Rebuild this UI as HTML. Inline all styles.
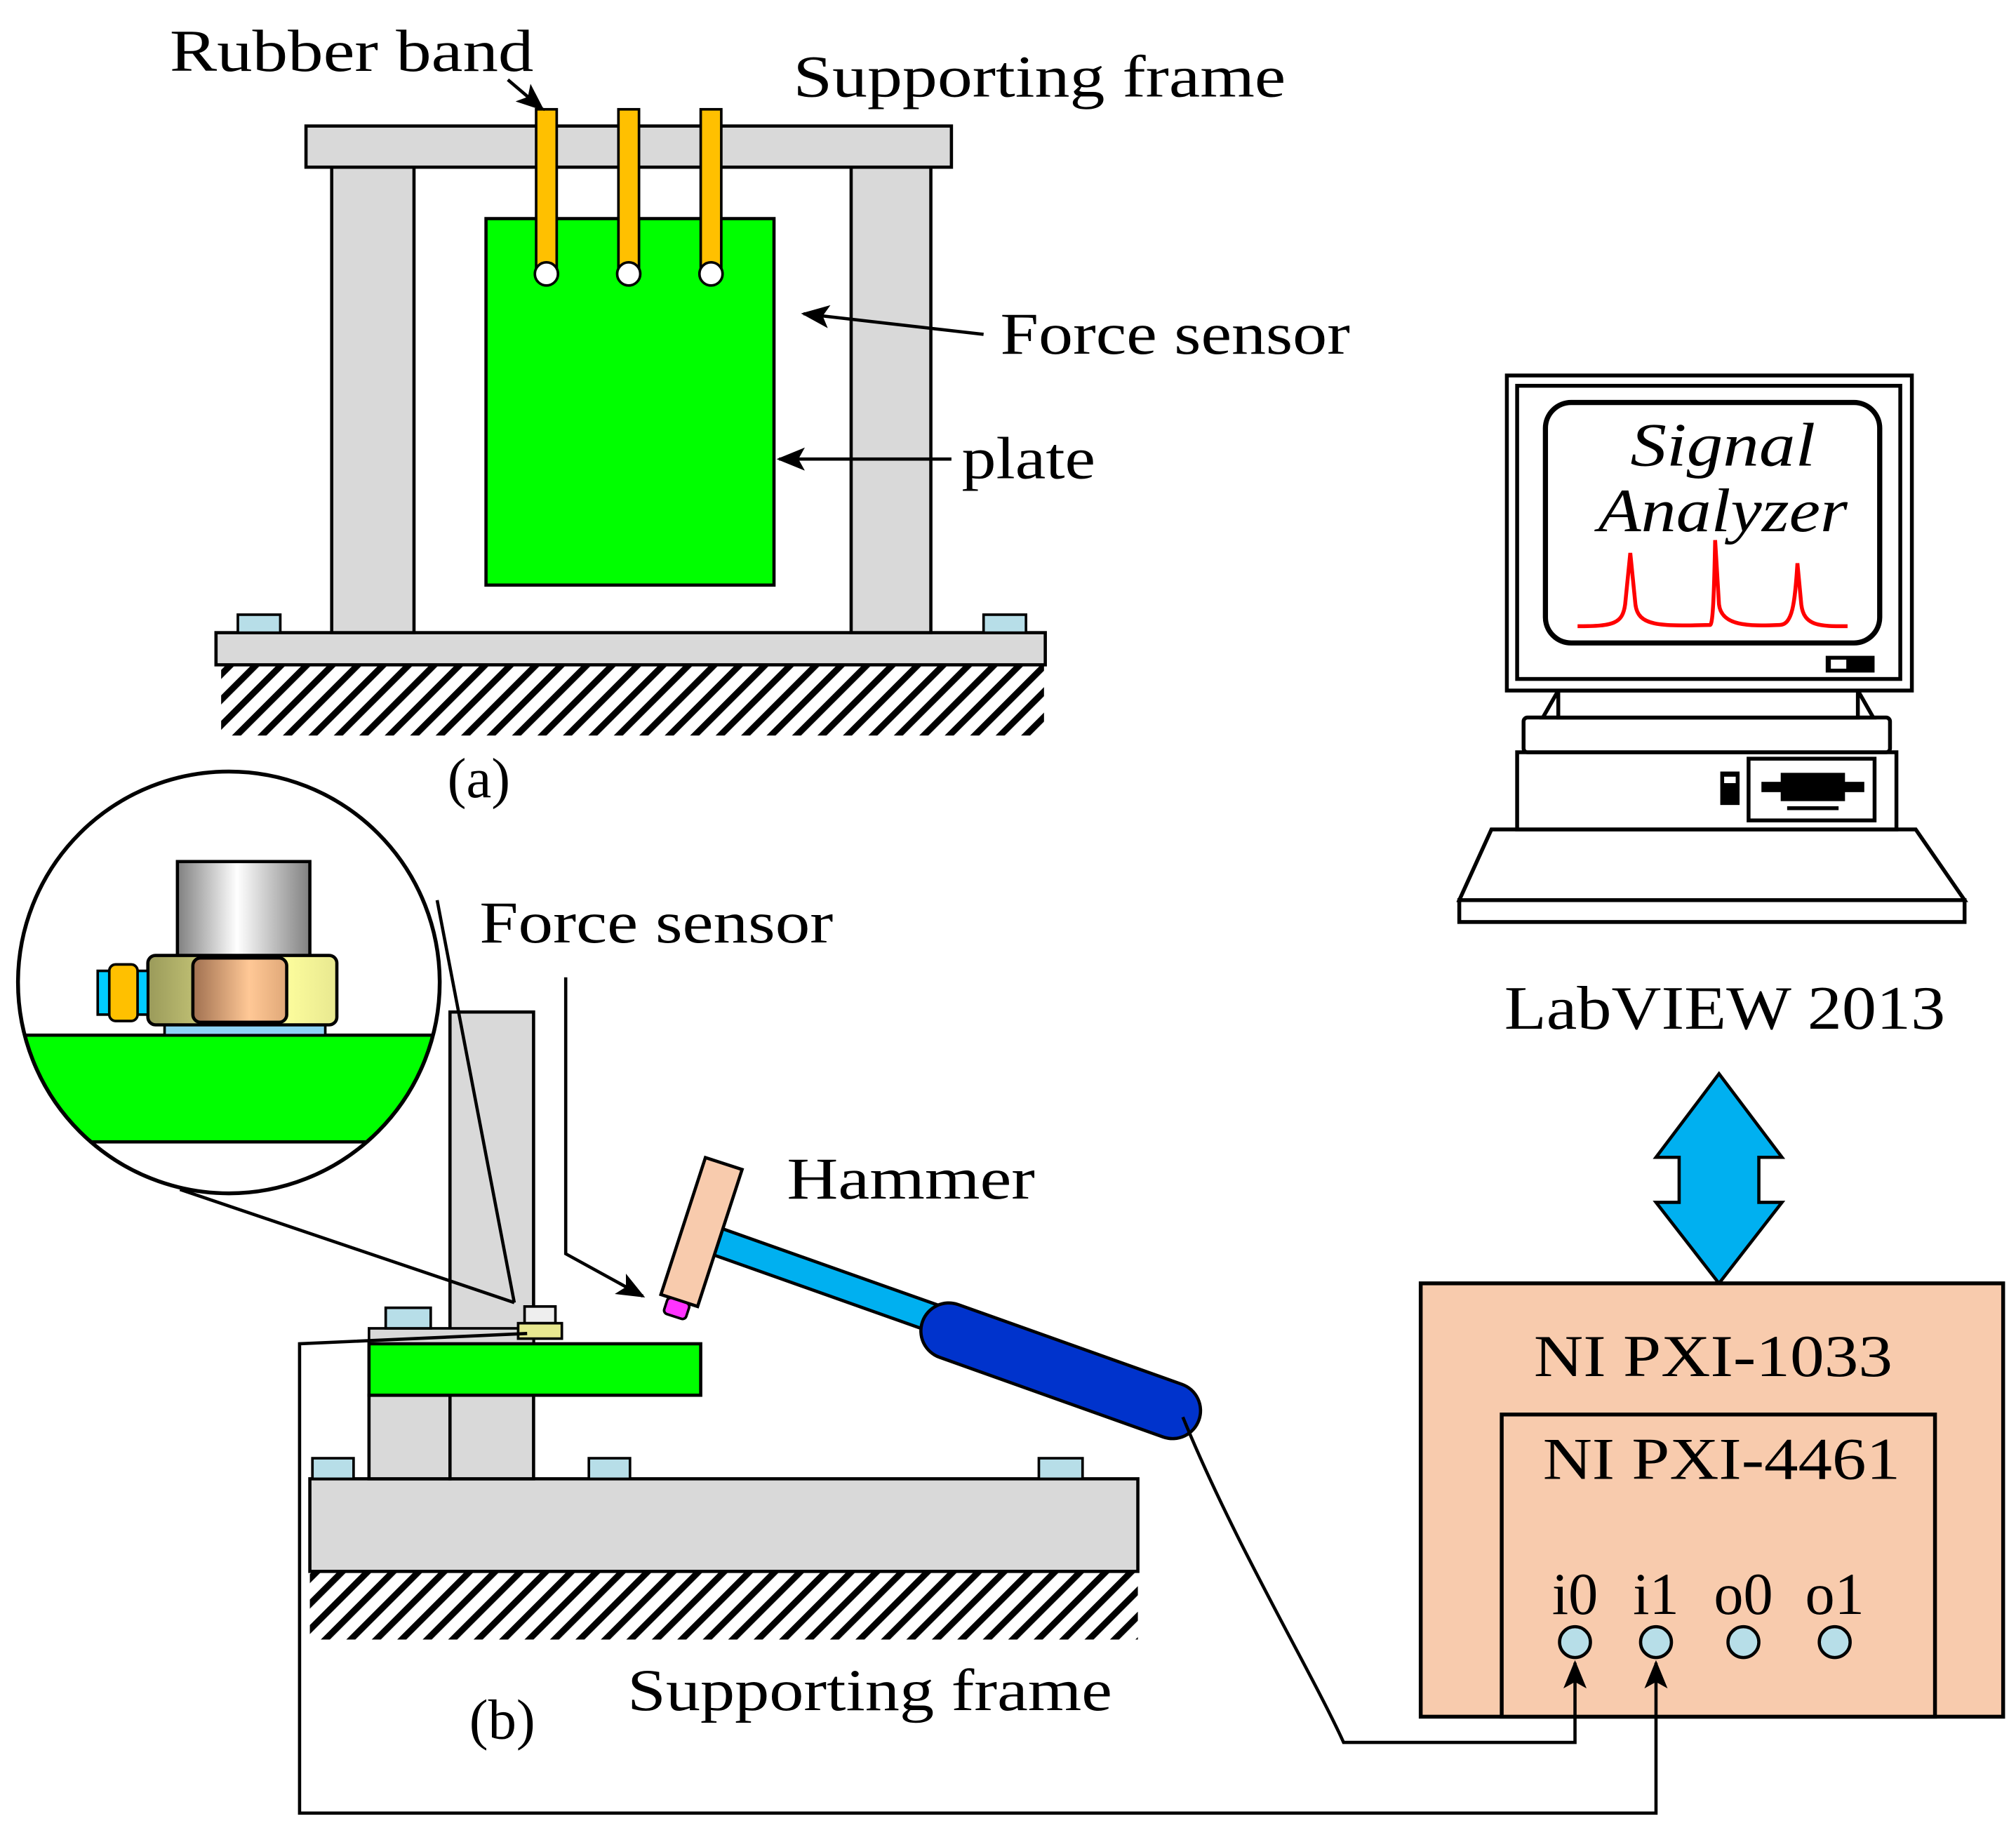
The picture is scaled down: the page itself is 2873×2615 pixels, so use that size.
<!DOCTYPE html>
<html><head><meta charset="utf-8"><style>
html,body{margin:0;padding:0;background:#fff}
svg{display:block}
text{font-family:"Liberation Serif",serif;fill:#000}
</style></head><body>
<svg width="2873" height="2615" viewBox="0 0 1568 1427" preserveAspectRatio="none" xmlns="http://www.w3.org/2000/svg">
<defs>
<pattern id="h" width="14" height="14" patternUnits="userSpaceOnUse" patternTransform="rotate(45)">
<rect width="14" height="14" fill="#fff"/><rect x="0" y="0" width="5" height="14" fill="#000"/>
</pattern>
<marker id="ar2" markerWidth="22" markerHeight="18" refX="20" refY="9" orient="auto" markerUnits="userSpaceOnUse"><path d="M0,0 L22,9 L0,18 L5,9 Z" fill="#000"/></marker>
<linearGradient id="cyl" x1="0" x2="1"><stop offset="0" stop-color="#808080"/><stop offset="0.45" stop-color="#fff"/><stop offset="1" stop-color="#808080"/></linearGradient>
<linearGradient id="nut" x1="0" x2="1"><stop offset="0" stop-color="#9a9a5a"/><stop offset="0.7" stop-color="#ffff9e"/><stop offset="1" stop-color="#e8e890"/></linearGradient>
<linearGradient id="nut2" x1="0" x2="1"><stop offset="0" stop-color="#a07050"/><stop offset="0.6" stop-color="#ffc896"/><stop offset="1" stop-color="#e0a878"/></linearGradient>
<clipPath id="lens"><circle cx="178" cy="764" r="164"/></clipPath>
</defs>

<!-- (a) -->
<rect x="172" y="517" width="640" height="55" fill="url(#h)"/>
<rect x="168" y="492" width="645" height="25" fill="#d9d9d9" stroke="#000" stroke-width="2.5"/>
<g fill="#b7dee8" stroke="#000" stroke-width="2"><rect x="185" y="478" width="33" height="14"/><rect x="765" y="478" width="33" height="14"/></g>
<rect x="258" y="130" width="64" height="362" fill="#d9d9d9" stroke="#000" stroke-width="2.5"/>
<rect x="662" y="130" width="62" height="362" fill="#d9d9d9" stroke="#000" stroke-width="2.5"/>
<rect x="238" y="98" width="502" height="32" fill="#d9d9d9" stroke="#000" stroke-width="2.5"/>
<rect x="378" y="170" width="224" height="285" fill="#00ff00" stroke="#000" stroke-width="2.5"/>
<g fill="#ffc000" stroke="#000" stroke-width="2">
<rect x="417" y="85" width="16" height="128"/><rect x="481" y="85" width="16" height="128"/><rect x="545" y="85" width="16" height="128"/></g>
<g fill="#fff" stroke="#000" stroke-width="2"><circle cx="425" cy="213" r="9"/><circle cx="489" cy="213" r="9"/><circle cx="553" cy="213" r="9"/></g>
<text x="132" y="55" font-size="46" textLength="283" lengthAdjust="spacingAndGlyphs">Rubber band</text>
<line x1="395" y1="62" x2="422" y2="85" stroke="#000" stroke-width="2.5" marker-end="url(#ar2)"/>
<text x="617" y="75" font-size="46" textLength="383" lengthAdjust="spacingAndGlyphs">Supporting frame</text>
<text x="778" y="275" font-size="46" textLength="272" lengthAdjust="spacingAndGlyphs">Force sensor</text>
<line x1="765" y1="260" x2="625" y2="244" stroke="#000" stroke-width="2.5" marker-end="url(#ar2)"/>
<text x="748" y="372" font-size="46" textLength="104" lengthAdjust="spacingAndGlyphs">plate</text>
<line x1="740" y1="357" x2="606" y2="357" stroke="#000" stroke-width="2.5" marker-end="url(#ar2)"/>
<text x="348" y="620" font-size="44">(a)</text>

<!-- (b) -->
<rect x="241" y="1222" width="644" height="53" fill="url(#h)"/>
<rect x="241" y="1150" width="644" height="72" fill="#d9d9d9" stroke="#000" stroke-width="2.5"/>
<g fill="#b7dee8" stroke="#000" stroke-width="2"><rect x="243" y="1134" width="32" height="16"/><rect x="458" y="1134" width="32" height="16"/><rect x="808" y="1134" width="34" height="16"/></g>
<rect x="287" y="1085" width="63" height="65" fill="#d9d9d9" stroke="#000" stroke-width="2.5"/>
<rect x="350" y="787" width="65" height="363" fill="#d9d9d9" stroke="#000" stroke-width="2.5"/>
<rect x="287" y="1033" width="128" height="12" fill="#d9d9d9" stroke="#000" stroke-width="2"/>
<rect x="300" y="1017" width="35" height="16" fill="#b7dee8" stroke="#000" stroke-width="2"/>
<rect x="287" y="1045" width="258" height="40" fill="#00ff00" stroke="#000" stroke-width="2.5"/>
<rect x="408" y="1016" width="24" height="13" fill="#eee" stroke="#000" stroke-width="2"/>
<rect x="403" y="1029" width="34" height="12" fill="#e8e890" stroke="#000" stroke-width="2"/>
<!-- lens -->
<line x1="340" y1="700" x2="400" y2="1013" stroke="#000" stroke-width="2.5"/>
<line x1="140" y1="925" x2="400" y2="1013" stroke="#000" stroke-width="2.5"/>
<circle cx="178" cy="764" r="164" fill="#fff"/>
<g clip-path="url(#lens)">
<rect x="0" y="805" width="400" height="83" fill="#00ff00" stroke="#000" stroke-width="2.5"/>
</g>
<circle cx="178" cy="764" r="164" fill="none" stroke="#000" stroke-width="3"/>
<rect x="138" y="670" width="103" height="76" fill="url(#cyl)" stroke="#000" stroke-width="2.5"/>
<rect x="128" y="794" width="125" height="11" fill="#8dd3f5" stroke="#000" stroke-width="2"/>
<rect x="115" y="743" width="147" height="54" rx="6" fill="url(#nut)" stroke="#000" stroke-width="2.5"/>
<rect x="150" y="745" width="73" height="50" rx="6" fill="url(#nut2)" stroke="#000" stroke-width="2.5"/>
<rect x="76" y="755" width="39" height="34" fill="#00ccff" stroke="#000" stroke-width="2"/>
<rect x="85" y="750" width="22" height="44" rx="5" fill="#ffc000" stroke="#000" stroke-width="2"/>

<text x="373" y="733" font-size="46" textLength="275" lengthAdjust="spacingAndGlyphs">Force sensor</text>
<polyline points="440,760 440,975 500,1008" fill="none" stroke="#000" stroke-width="2.5" marker-end="url(#ar2)"/>
<text x="612" y="932" font-size="46" textLength="193" lengthAdjust="spacingAndGlyphs">Hammer</text>
<text x="488" y="1330" font-size="46" textLength="377" lengthAdjust="spacingAndGlyphs">Supporting frame</text>
<text x="365" y="1352" font-size="44">(b)</text>

<!-- hammer -->
<line x1="548" y1="962" x2="740" y2="1030" stroke="#000" stroke-width="24"/>
<line x1="548" y1="962" x2="740" y2="1030" stroke="#00b0f0" stroke-width="19"/>
<line x1="738" y1="1035" x2="912" y2="1097" stroke="#000" stroke-width="46" stroke-linecap="round"/>
<line x1="738" y1="1035" x2="912" y2="1097" stroke="#0033cc" stroke-width="41" stroke-linecap="round"/>
<g transform="translate(545,960) rotate(18)">
<rect x="-15" y="-58" width="30" height="112" fill="#f8cbad" stroke="#000" stroke-width="2.5"/>
<rect x="-9" y="54" width="18" height="13" rx="3" fill="#ff33ff" stroke="#000" stroke-width="2"/>
</g>

<!-- computer -->
<g stroke="#000" stroke-width="3" fill="#fff">
<polygon points="1160,645 1490,645 1528,700 1135,700"/>
<rect x="1135" y="700" width="393" height="17"/>
<rect x="1180" y="585" width="295" height="60"/>
<rect x="1360" y="590" width="98" height="48"/>
<rect x="1185" y="558" width="285" height="27" rx="3"/>
<polygon points="1200,558 1212,537 1445,537 1457,558"/>
<rect x="1212" y="537" width="233" height="21"/>
<rect x="1172" y="292" width="315" height="245"/>
<rect x="1180" y="300" width="298" height="228"/>
<rect x="1202" y="313" width="260" height="187" rx="20" stroke-width="4"/>
</g>
<rect x="1338" y="600" width="15" height="26" fill="#000"/>
<rect x="1341" y="604" width="9" height="5" fill="#fff"/>
<rect x="1370" y="608" width="80" height="8" fill="#000"/>
<rect x="1385" y="601" width="50" height="22" fill="#000"/>
<rect x="1390" y="627" width="40" height="3" fill="#000"/>
<rect x="1420" y="510" width="38" height="13" fill="#000"/>
<rect x="1424" y="513" width="12" height="7" fill="#fff"/>
<text x="1268" y="362" font-size="48" font-style="italic" textLength="144" lengthAdjust="spacingAndGlyphs">Signal</text>
<text x="1243" y="413" font-size="48" font-style="italic" textLength="194" lengthAdjust="spacingAndGlyphs">Analyzer</text>
<path d="M1227,487 C1255,487 1262,485 1264,470 L1268,430 L1272,470 C1274,487 1290,487 1330,486 C1332,486 1333,470 1334,420 L1337,470 C1339,487 1360,487 1384,486 C1394,486 1396,470 1398,438 L1401,470 C1403,487 1415,487 1437,487" fill="none" stroke="#ff0000" stroke-width="3"/>
<text x="1170" y="800" font-size="48" textLength="343" lengthAdjust="spacingAndGlyphs">LabVIEW 2013</text>

<!-- double arrow -->
<polygon points="1337,835 1386,900 1368,900 1368,935 1386,935 1337,998 1288,935 1306,935 1306,900 1288,900" fill="#00b0f0" stroke="#000" stroke-width="2.5"/>

<!-- NI box -->
<rect x="1105" y="998" width="453" height="337" fill="#f8cbad" stroke="#000" stroke-width="3"/>
<rect x="1168" y="1100" width="337" height="235" fill="#f8cbad" stroke="#000" stroke-width="3"/>
<text x="1193" y="1070" font-size="46" textLength="279" lengthAdjust="spacingAndGlyphs">NI PXI-1033</text>
<text x="1200" y="1150" font-size="46" textLength="278" lengthAdjust="spacingAndGlyphs">NI PXI-4461</text>
<g font-size="46" text-anchor="middle"><text x="1225" y="1255">i0</text><text x="1288" y="1255">i1</text><text x="1356" y="1255">o0</text><text x="1427" y="1255">o1</text></g>
<g fill="#b7dee8" stroke="#000" stroke-width="2.5"><circle cx="1225" cy="1277" r="12"/><circle cx="1288" cy="1277" r="12"/><circle cx="1356" cy="1277" r="12"/><circle cx="1427" cy="1277" r="12"/></g>

<!-- cables -->
<polyline points="410,1037 233,1045 233,1410 1288,1410 1288,1293" fill="none" stroke="#000" stroke-width="2.5" marker-end="url(#ar2)"/>
<path d="M920,1102 C960,1200 1020,1300 1045,1355 L1225,1355 L1225,1293" fill="none" stroke="#000" stroke-width="2.5" marker-end="url(#ar2)"/>
</svg>
</body></html>
